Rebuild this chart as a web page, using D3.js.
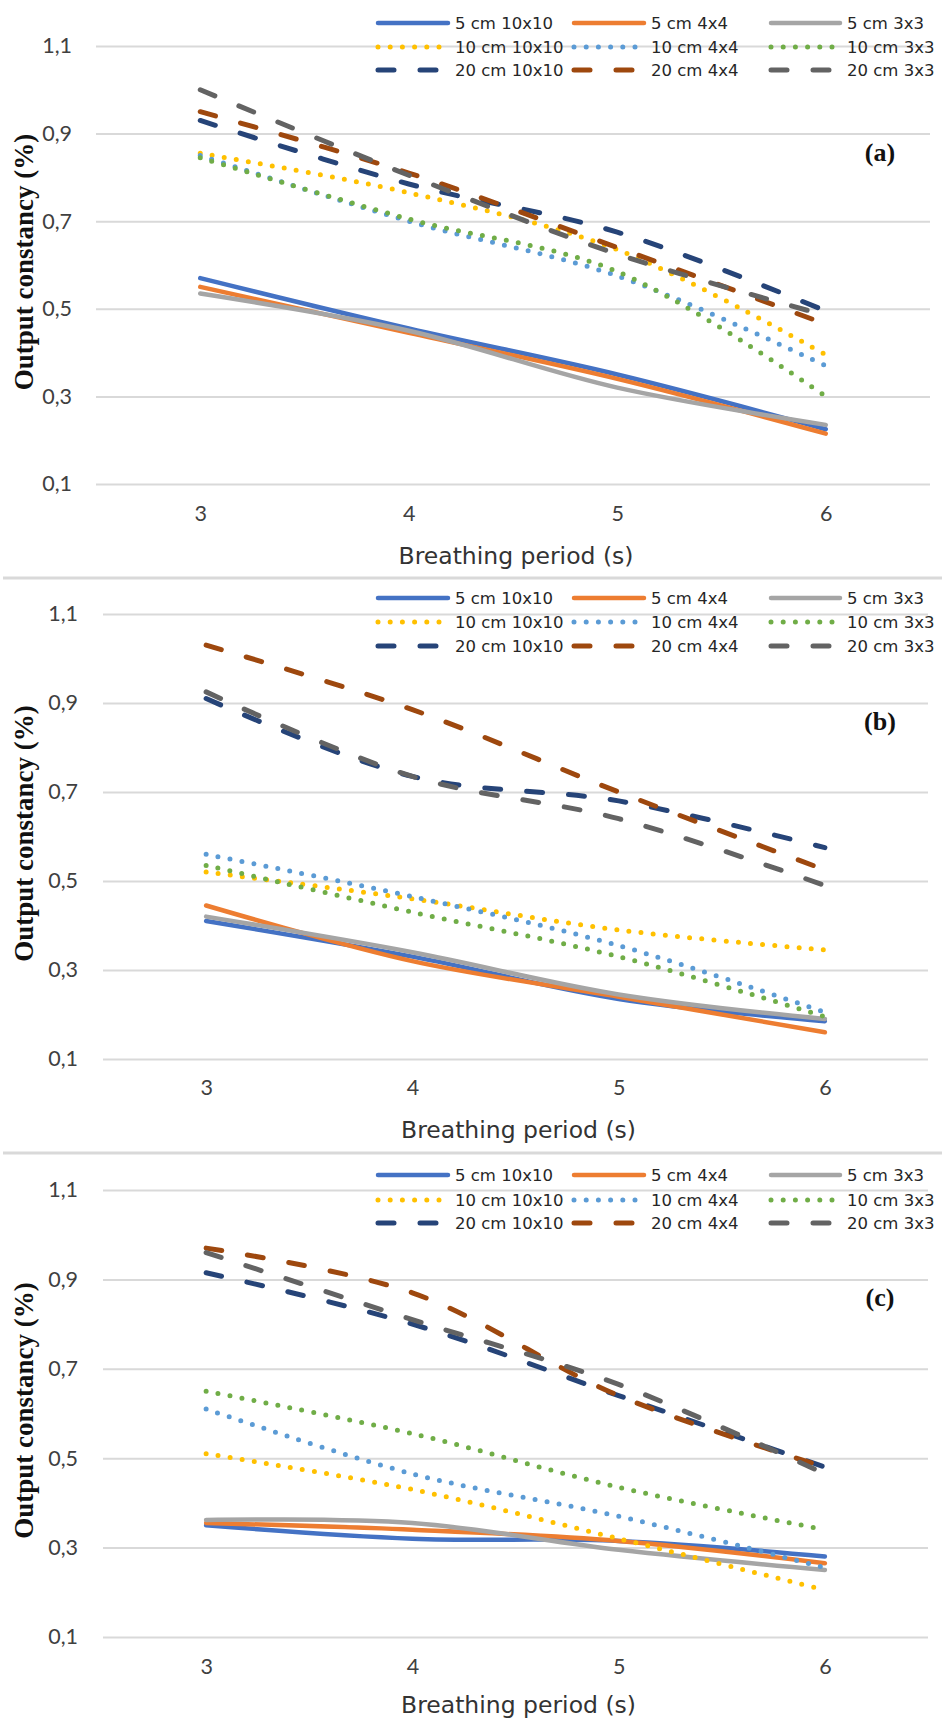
<!DOCTYPE html>
<html><head><meta charset="utf-8">
<script src="https://cdn.jsdelivr.net/npm/d3@7"></script>
<style>body{margin:0;background:#fff}svg{display:block}</style>
</head><body>
<svg id="chart" width="942" height="1721"></svg>
<script>
// ---------- data ----------
const periods = [3, 4, 5, 6];
const seriesNames = ["5 cm 10x10", "5 cm 4x4", "5 cm 3x3",
                     "10 cm 10x10", "10 cm 4x4", "10 cm 3x3",
                     "20 cm 10x10", "20 cm 4x4", "20 cm 3x3"];
const yTickValues = [0.1, 0.3, 0.5, 0.7, 0.9, 1.1];
const panelLabels = ["(a)", "(b)", "(c)"];
const xTitle = "Breathing period (s)";
const yTitle = "Output constancy (%)";

// panel (a)
const a_5cm_10x10  = [0.57, 0.455, 0.35, 0.225];
const a_5cm_4x4    = [0.55, 0.445, 0.34, 0.215];
const a_5cm_3x3    = [0.535, 0.45, 0.32, 0.235];
const a_10cm_10x10 = [0.855, 0.765, 0.635, 0.395];
const a_10cm_4x4   = [0.85, 0.70, 0.575, 0.37];
const a_10cm_3x3   = [0.845, 0.705, 0.585, 0.30];
const a_20cm_10x10 = [0.93, 0.785, 0.675, 0.495];
const a_20cm_4x4   = [0.95, 0.81, 0.64, 0.465];
const a_20cm_3x3   = [1.0, 0.805, 0.625, 0.485];
// panel (b)
const b_5cm_10x10  = [0.41, 0.33, 0.235, 0.185];
const b_5cm_4x4    = [0.445, 0.32, 0.24, 0.16];
const b_5cm_3x3    = [0.42, 0.34, 0.245, 0.19];
const b_10cm_10x10 = [0.52, 0.46, 0.39, 0.345];
const b_10cm_4x4   = [0.56, 0.465, 0.355, 0.205];
const b_10cm_3x3   = [0.535, 0.43, 0.33, 0.195];
const b_20cm_10x10 = [0.91, 0.735, 0.68, 0.575];
const b_20cm_4x4   = [1.03, 0.885, 0.70, 0.525];
const b_20cm_3x3   = [0.925, 0.735, 0.64, 0.49];
// panel (c)
const c_5cm_10x10  = [0.35, 0.32, 0.315, 0.28];
const c_5cm_4x4    = [0.355, 0.34, 0.315, 0.265];
const c_5cm_3x3    = [0.362, 0.355, 0.295, 0.25];
const c_10cm_10x10 = [0.51, 0.43, 0.32, 0.205];
const c_10cm_4x4   = [0.61, 0.465, 0.37, 0.255];
const c_10cm_3x3   = [0.65, 0.555, 0.435, 0.34];
const c_20cm_10x10 = [0.915, 0.80, 0.64, 0.48];
const c_20cm_4x4   = [0.97, 0.87, 0.64, 0.48];
const c_20cm_3x3   = [0.96, 0.81, 0.665, 0.465];

const panelA = [a_5cm_10x10, a_5cm_4x4, a_5cm_3x3, a_10cm_10x10, a_10cm_4x4, a_10cm_3x3, a_20cm_10x10, a_20cm_4x4, a_20cm_3x3];
const panelB = [b_5cm_10x10, b_5cm_4x4, b_5cm_3x3, b_10cm_10x10, b_10cm_4x4, b_10cm_3x3, b_20cm_10x10, b_20cm_4x4, b_20cm_3x3];
const panelC = [c_5cm_10x10, c_5cm_4x4, c_5cm_3x3, c_10cm_10x10, c_10cm_4x4, c_10cm_3x3, c_20cm_10x10, c_20cm_4x4, c_20cm_3x3];
const panels = [panelA, panelB, panelC];

// ---------- styles & layout ----------
const colors = ["#4472C4", "#ED7D31", "#A5A5A5", "#FFC000", "#5B9BD5", "#70AD47", "#264478", "#9E480E", "#636363"];
const lineKinds = ["solid", "solid", "solid", "dot", "dot", "dot", "dash", "dash", "dash"];
const kindStyle = {
  solid: {w: 4.5, dash: null, cap: "round"},
  dot:   {w: 5, dash: "0,12.2", cap: "round"},
  dash:  {w: 5, dash: "16,26", cap: "round"}
};
const layouts = [
  {left: 96,  right: 930, top: 46,   bottom: 484,  xTickY: 521,  titleY: 564,  legendY: [23, 47, 70],       yLabelX: 72, sep: 578},
  {left: 103, right: 928, top: 614,  bottom: 1059, xTickY: 1095, titleY: 1138, legendY: [598, 622, 646],    yLabelX: 78, sep: 1153},
  {left: 103, right: 928, top: 1190, bottom: 1637, xTickY: 1674, titleY: 1713, legendY: [1175, 1200, 1223], yLabelX: 78, sep: null}
];
const legendCols = [{x1: 378, x2: 448, tx: 455}, {x1: 574, x2: 644, tx: 651}, {x1: 771, x2: 840, tx: 847}];

const svg = d3.select("#chart");
svg.append("rect").attr("width", 942).attr("height", 1721).attr("fill", "#fff");

const fmt = d => d3.format(".1f")(d).replace(".", ",");

panels.forEach((values, p) => {
  const L = layouts[p];
  const g = svg.append("g");
  const x = d3.scalePoint().domain(periods).range([L.left, L.right]).padding(0.5);
  const y = d3.scaleLinear().domain([0.1, 1.1]).range([L.bottom, L.top]);

  // y axis + gridlines
  const ya = g.append("g").attr("transform", `translate(${L.left},0)`)
    .call(d3.axisLeft(y).tickValues(yTickValues).tickFormat(fmt)
      .tickSize(-(L.right - L.left)).tickPadding(L.left - L.yLabelX));
  ya.select(".domain").remove();
  ya.selectAll(".tick line").attr("stroke", "#d9d9d9").attr("stroke-width", 2);
  ya.selectAll(".tick text").attr("font-family", "Lato, 'Open Sans', sans-serif")
    .attr("font-size", 21.5).attr("fill", "#404040");

  // x axis (labels only)
  const xa = g.append("g").attr("transform", `translate(0,${L.bottom})`)
    .call(d3.axisBottom(x).tickSize(0).tickPadding(L.xTickY - L.bottom - 0.71 * 21.5));
  xa.select(".domain").remove();
  xa.selectAll(".tick text").attr("font-family", "Lato, 'Open Sans', sans-serif")
    .attr("font-size", 21.5).attr("fill", "#404040");

  // lines
  const line = d3.line().x((d, i) => x(periods[i])).y(d => y(d)).curve(d3.curveCatmullRom);
  values.forEach((vals, s) => {
    const st = kindStyle[lineKinds[s]];
    g.append("path").datum(vals).attr("d", line)
      .attr("fill", "none").attr("stroke", colors[s]).attr("stroke-width", st.w)
      .attr("stroke-linecap", st.cap).attr("stroke-linejoin", "round")
      .attr("stroke-dasharray", st.dash);
  });

  // legend
  seriesNames.forEach((name, s) => {
    const row = Math.floor(s / 3), col = s % 3;
    const C = legendCols[col], ly = L.legendY[row];
    const st = kindStyle[lineKinds[s]];
    g.append("line").attr("x1", C.x1).attr("x2", C.x2).attr("y1", ly).attr("y2", ly)
      .attr("stroke", colors[s]).attr("stroke-width", st.w)
      .attr("stroke-linecap", st.cap).attr("stroke-dasharray", st.dash);
    g.append("text").attr("x", C.tx).attr("y", ly).attr("dy", "0.36em")
      .attr("font-family", "'DejaVu Sans', sans-serif").attr("font-size", 16.5)
      .attr("fill", "#262626").text(name);
  });

  // panel label
  g.append("text").attr("x", 880).attr("y", y(0.9) + 27).attr("text-anchor", "middle")
    .attr("font-family", "'Liberation Serif', 'Times New Roman', serif").attr("font-weight", "bold")
    .attr("font-size", 26).attr("fill", "#111").text(panelLabels[p]);

  // y title
  g.append("text").attr("transform", `translate(33,${(L.top + L.bottom) / 2 - 3}) rotate(-90)`)
    .attr("text-anchor", "middle")
    .attr("font-family", "'Liberation Serif', 'Times New Roman', serif").attr("font-weight", "bold")
    .attr("font-size", 27).attr("fill", "#111").text(yTitle);

  // x title
  g.append("text").attr("x", (L.left + L.right) / 2 + 3).attr("y", L.titleY).attr("text-anchor", "middle")
    .attr("font-family", "'DejaVu Sans', sans-serif").attr("font-size", 23.5)
    .attr("fill", "#333").text(xTitle);

  if (L.sep) {
    svg.append("line").attr("x1", 3).attr("x2", 942).attr("y1", L.sep).attr("y2", L.sep)
      .attr("stroke", "#d9d9d9").attr("stroke-width", 3);
  }
});
</script>
</body></html>
